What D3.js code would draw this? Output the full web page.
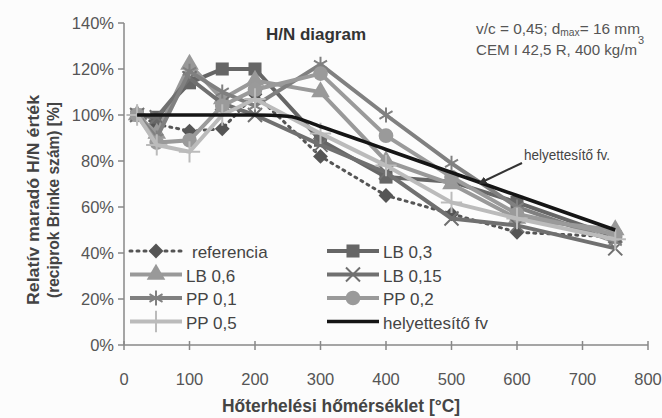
<!DOCTYPE html>
<html><head><meta charset="utf-8">
<script src="https://cdn.jsdelivr.net/npm/d3@7"></script>
<style>
body{margin:0;background:#fcfcfc;}
svg{display:block;font-family:"Liberation Sans Narrow","Arial Narrow","Liberation Sans",sans-serif;}
</style></head><body>
<svg id="c" width="662" height="418"></svg>
<script>
const temps = [20, 50, 100, 150, 200, 300, 400, 500, 600, 750];
const referencia = [100, 96, 93, 94, 109, 82, 65, 57, 49, 47];
const lb03 = [100, 99, 114, 120, 120, 89, 73, 71, 62, 47];
const lb06 = [100, 92, 122, 107, 115, 110, 80, 70, 55, 50];
const lb015 = [100, 99, 116, 105, 100, 87, 75, 55, 52, 42];
const pp01 = [100, 90, 119, 110, 104, 122, 100, 79, 60, 45];
const pp02 = [100, 88, 89, 104, 111, 118, 91, 73, 57, 48];
const pp05 = [100, 87, 84, 100, 107, 92, 78, 62, 55, 46];
const fitT = [20, 200, 250, 300, 400, 500, 600, 750];
const fitV = [100, 100, 99.5, 95, 85, 75, 65, 50];
const yTicks = [0, 20, 40, 60, 80, 100, 120, 140];
const xTicks = [0, 100, 200, 300, 400, 500, 600, 700, 800];
const seriesNames = ["referencia", "LB 0,3", "LB 0,6", "LB 0,15", "PP 0,1", "PP 0,2", "PP 0,5", "helyettesítő fv"];

const svg = d3.select("#c");
const x = d3.scaleLinear().domain([0, 800]).range([124, 648]);
const y = d3.scaleLinear().domain([0, 140]).range([345, 23]);

const series = [
  {name: seriesNames[0], v: referencia, color: "#555", sym: d3.symbolSquare, rot: 45, size: 110, dash: "2,5", fillSym: true, lw: 3},
  {name: seriesNames[1], v: lb03, color: "#666", sym: d3.symbolSquare, size: 170, fillSym: true, lw: 4},
  {name: seriesNames[2], v: lb06, color: "#999", sym: d3.symbolTriangle, size: 150, fillSym: true, lw: 4},
  {name: seriesNames[3], v: lb015, color: "#707070", sym: d3.symbolTimes, size: 130, fillSym: false, lw: 4},
  {name: seriesNames[4], v: pp01, color: "#808080", sym: d3.symbolAsterisk, size: 160, fillSym: false, lw: 4},
  {name: seriesNames[5], v: pp02, color: "#9a9a9a", sym: d3.symbolCircle, size: 170, fillSym: true, lw: 4},
  {name: seriesNames[6], v: pp05, color: "#bbb", sym: d3.symbolPlus, size: 150, fillSym: false, lw: 4},
];

// axes
const ax = svg.append("g").attr("stroke", "#888").attr("stroke-width", 1.5);
ax.append("line").attr("x1", x(0)).attr("x2", x(0)).attr("y1", y(140)).attr("y2", y(0));
ax.append("line").attr("x1", x(0)).attr("x2", x(800)).attr("y1", y(0)).attr("y2", y(0));
yTicks.forEach(t => ax.append("line").attr("x1", x(0) - 6).attr("x2", x(0)).attr("y1", y(t)).attr("y2", y(t)));
xTicks.forEach(t => ax.append("line").attr("x1", x(t)).attr("x2", x(t)).attr("y1", y(0) - 4).attr("y2", y(0) + 5));

const tl = svg.append("g").attr("fill", "#555").attr("font-size", 16.5);
yTicks.forEach(t => tl.append("text").attr("x", x(0) - 10).attr("y", y(t) + 6).attr("text-anchor", "end").text(t + "%"));
xTicks.forEach(t => tl.append("text").attr("x", x(t)).attr("y", y(0) + 40).attr("text-anchor", "middle").text(t));

// series
const line = d3.line().x((d, i) => x(temps[i])).y(d => y(d));
series.forEach(s => {
  const g = svg.append("g");
  g.append("path").attr("d", line(s.v)).attr("fill", "none").attr("stroke", s.color)
    .attr("stroke-width", s.lw).attr("stroke-dasharray", s.dash || null).attr("stroke-linecap", s.dash ? "round" : "butt");
  const sym = d3.symbol().type(s.sym).size(s.size);
  s.v.forEach((v, i) => {
    g.append("path").attr("d", sym()).attr("transform", `translate(${x(temps[i])},${y(v)}) rotate(${s.rot || 0})`)
      .attr("fill", s.fillSym ? s.color : "none").attr("stroke", s.color).attr("stroke-width", s.fillSym ? 0 : 2);
  });
});
// fit line
svg.append("path").attr("d", d3.line().x((d, i) => x(fitT[i])).y(d => y(d)).curve(d3.curveMonotoneX)(fitV))
  .attr("fill", "none").attr("stroke", "#151515").attr("stroke-width", 3.5);

// titles
svg.append("text").attr("x", 316).attr("y", 40).attr("text-anchor", "middle").attr("font-size", 17)
  .attr("font-weight", "bold").attr("fill", "#333").text("H/N diagram");
const info = svg.append("g").attr("fill", "#555").attr("font-size", 15);
const t1 = info.append("text").attr("x", 640).attr("y", 34).attr("text-anchor", "end").attr("textLength", 164).attr("lengthAdjust", "spacingAndGlyphs");
t1.append("tspan").text("v/c = 0,45; d");
t1.append("tspan").attr("font-size", 10).attr("dy", 2).text("max");
t1.append("tspan").attr("dy", -2).text("= 16 mm");
info.append("text").attr("x", 637).attr("y", 55).attr("text-anchor", "end").attr("textLength", 161).attr("lengthAdjust", "spacingAndGlyphs").text("CEM I 42,5 R, 400 kg/m");
info.append("text").attr("x", 638).attr("y", 44).attr("font-size", 11).text("3");

// annotation
svg.append("text").attr("x", 524).attr("y", 160).attr("font-size", 15).attr("fill", "#444").attr("textLength", 86).attr("lengthAdjust", "spacingAndGlyphs").text("helyettesítő fv.");
svg.append("defs").append("marker").attr("id", "ah").attr("viewBox", "0 0 10 10").attr("refX", 8).attr("refY", 5)
  .attr("markerWidth", 4).attr("markerHeight", 4).attr("orient", "auto")
  .append("path").attr("d", "M0,0L10,5L0,10z").attr("fill", "#333");
svg.append("line").attr("x1", 522).attr("y1", 163).attr("x2", 480).attr("y2", 183)
  .attr("stroke", "#333").attr("stroke-width", 2).attr("marker-end", "url(#ah)");

// axis titles
svg.append("text").attr("x", 341).attr("y", 412).attr("text-anchor", "middle").attr("font-size", 18)
  .attr("font-weight", "bold").attr("fill", "#444").attr("textLength", 238).attr("lengthAdjust", "spacingAndGlyphs").text("Hőterhelési hőmérséklet [°C]");
const yt = svg.append("g").attr("transform", "translate(0,200) rotate(-90)").attr("font-size", 16.5)
  .attr("font-weight", "bold").attr("fill", "#444").attr("text-anchor", "middle");
yt.append("text").attr("x", 0).attr("y", 39).attr("textLength", 210).attr("lengthAdjust", "spacingAndGlyphs").text("Relatív maradó H/N érték");
yt.append("text").attr("x", 0).attr("y", 59).attr("textLength", 196).attr("lengthAdjust", "spacingAndGlyphs").text("(reciprok Brinke szám) [%]");

// legend
const allLeg = series.concat([{name: seriesNames[7], color: "#151515", lw: 3.5, sym: null}]);
allLeg.forEach((s, j) => {
  const col = j % 2, row = Math.floor(j / 2);
  const lx = col === 0 ? 130 : 327, ly = 251 + row * 23.5;
  const g = svg.append("g");
  g.append("line").attr("x1", lx).attr("x2", lx + 52).attr("y1", ly).attr("y2", ly).attr("stroke", s.color)
    .attr("stroke-width", s.lw).attr("stroke-dasharray", s.dash || null).attr("stroke-linecap", s.dash ? "round" : "butt");
  if (s.sym) {
    g.append("path").attr("d", d3.symbol().type(s.sym).size(s.size)()).attr("transform", `translate(${lx + 26},${ly}) rotate(${s.rot || 0})`)
      .attr("fill", s.fillSym ? s.color : "none").attr("stroke", s.color).attr("stroke-width", s.fillSym ? 0 : 2);
  }
  g.append("text").attr("x", lx + (j === 0 ? 62 : 56)).attr("y", ly + 7).attr("font-size", 17).attr("fill", "#444").text(s.name);
});
</script></body></html>
